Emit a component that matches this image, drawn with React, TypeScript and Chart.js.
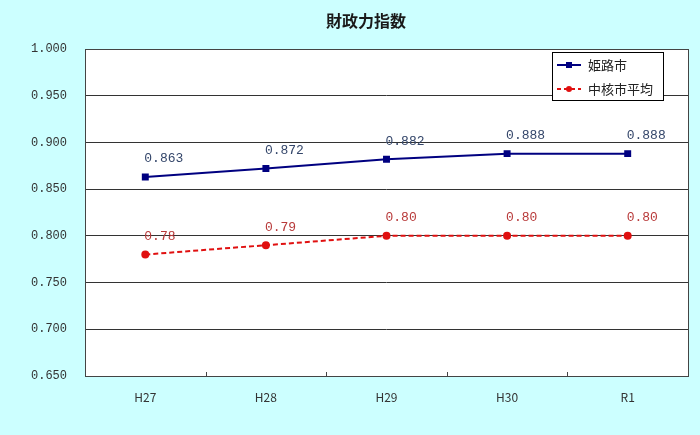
import React, { useEffect, useRef } from "react";
import { Chart, registerables } from "chart.js";

Chart.register(...registerables);

const categories = ["H27", "H28", "H29", "H30", "R1"];
const himejiValues = [0.863, 0.872, 0.882, 0.888, 0.888];
const himejiLabels = ["0.863", "0.872", "0.882", "0.888", "0.888"];
const coreCityValues = [0.78, 0.79, 0.8, 0.8, 0.8];
const coreCityLabels = ["0.78", "0.79", "0.80", "0.80", "0.80"];
const yTicks = [0.65, 0.7, 0.75, 0.8, 0.85, 0.9, 0.95, 1.0];
const seriesNames = ["姫路市", "中核市平均"];
const titleText = "財政力指数";

const FONT = "'Noto Sans CJK JP', 'DejaVu Sans', sans-serif";
const MONO = "'Liberation Mono', 'DejaVu Sans Mono', monospace";

const bgPlugin = {
  id: "bgPlugin",
  beforeDraw(chart: any) {
    const { ctx, chartArea } = chart;
    ctx.save();
    ctx.fillStyle = "#CCFFFF";
    ctx.fillRect(0, 0, chart.width, chart.height);
    ctx.fillStyle = "#FFFFFF";
    ctx.fillRect(chartArea.left, chartArea.top, chartArea.right - chartArea.left, chartArea.bottom - chartArea.top);
    // title
    ctx.fillStyle = "#1a1a1a";
    ctx.font = `bold 16px ${FONT}`;
    ctx.textAlign = "center";
    ctx.textBaseline = "middle";
    ctx.fillText(titleText, 366, 21);
    ctx.restore();
  },
  afterDatasetsDraw(chart: any) {
    const { ctx, chartArea } = chart;
    ctx.save();
    // plot border
    ctx.strokeStyle = "#444";
    ctx.lineWidth = 1;
    ctx.strokeRect(Math.round(chartArea.left) + 0.5, Math.round(chartArea.top) + 0.5, Math.round(chartArea.right - chartArea.left), Math.round(chartArea.bottom - chartArea.top));
    // inward category tick marks
    const xs = chart.scales.x;
    for (let i = 0; i <= categories.length; i++) {
      const px = Math.round(xs.getPixelForValue(i - 0.5)) + 0.5;
      ctx.beginPath();
      ctx.moveTo(px, chartArea.bottom);
      ctx.lineTo(px, chartArea.bottom - 4);
      ctx.stroke();
    }
    // data labels
    ctx.font = `13px ${MONO}`;
    ctx.textAlign = "left";
    ctx.textBaseline = "middle";
    const labelSets = [
      { labels: himejiLabels, color: "#34466a" },
      { labels: coreCityLabels, color: "#b83a3a" },
    ];
    labelSets.forEach((set, di) => {
      const meta = chart.getDatasetMeta(di);
      ctx.fillStyle = set.color;
      meta.data.forEach((pt: any, i: number) => {
        ctx.fillText(set.labels[i], pt.x - 1, pt.y - 18);
      });
    });
    // legend box
    const lx = 552, ly = 52, lw = 111, lh = 48;
    ctx.fillStyle = "#FFFFFF";
    ctx.fillRect(lx, ly, lw, lh);
    ctx.strokeStyle = "#000";
    ctx.strokeRect(lx + 0.5, ly + 0.5, lw, lh);
    const entries = [
      { name: seriesNames[0], color: "#000080", dash: [] as number[], square: true, y: 65 },
      { name: seriesNames[1], color: "#E01010", dash: [4, 3], square: false, y: 89 },
    ];
    entries.forEach((e) => {
      ctx.strokeStyle = e.color;
      ctx.lineWidth = 2;
      ctx.setLineDash(e.dash);
      ctx.beginPath();
      ctx.moveTo(557, e.y);
      ctx.lineTo(581, e.y);
      ctx.stroke();
      ctx.setLineDash([]);
      ctx.fillStyle = e.color;
      if (e.square) ctx.fillRect(566, e.y - 3, 6, 6);
      else {
        ctx.beginPath();
        ctx.arc(569, e.y, 3, 0, Math.PI * 2);
        ctx.fill();
      }
      ctx.fillStyle = "#222";
      ctx.font = `13px ${FONT}`;
      ctx.textAlign = "left";
      ctx.fillText(e.name, 588, e.y);
    });
    ctx.restore();
  },
};

export default function App() {
  const ref = useRef<HTMLCanvasElement>(null);
  useEffect(() => {
    document.body.style.margin = "0";
    const chart = new Chart(ref.current!, {
      type: "line",
      data: {
        labels: categories,
        datasets: [
          {
            label: seriesNames[0],
            data: himejiValues,
            borderColor: "#000080",
            backgroundColor: "#000080",
            borderWidth: 2,
            pointStyle: "rect",
            pointRadius: 3.5,
            tension: 0,
          },
          {
            label: seriesNames[1],
            data: coreCityValues,
            borderColor: "#E01010",
            backgroundColor: "#E01010",
            borderWidth: 2,
            borderDash: [5, 3],
            pointStyle: "circle",
            pointRadius: 3,
            tension: 0,
          },
        ],
      },
      options: {
        responsive: false,
        animation: false,
        layout: { padding: { left: 0, right: 12, top: 49, bottom: 0 } },
        plugins: {
          legend: { display: false },
          tooltip: { enabled: false },
          title: { display: false },
        },
        scales: {
          x: {
            offset: true,
            grid: { display: false, drawTicks: false },
            border: { display: false },
            ticks: { color: "#333", font: { family: FONT, size: 12 }, padding: 14 },
            afterFit(scale: any) {
              scale.height = 59;
            },
          },
          y: {
            min: 0.65,
            max: 1.0,
            afterBuildTicks(scale: any) {
              scale.ticks = yTicks.map((v) => ({ value: v }));
            },
            grid: { color: "#333", drawTicks: false, lineWidth: 1 },
            border: { display: false },
            ticks: {
              color: "#333",
              font: { family: MONO, size: 12 },
              padding: 18,
              callback: (v: any) => Number(v).toFixed(3),
            },
            afterFit(scale: any) {
              scale.width = 85;
            },
          },
        },
      },
      plugins: [bgPlugin],
    });
    return () => chart.destroy();
  }, []);
  return (
    <div style={{ position: "fixed", left: 0, top: 0, width: 700, height: 435 }}>
      <canvas ref={ref} width={700} height={435} />
    </div>
  );
}
